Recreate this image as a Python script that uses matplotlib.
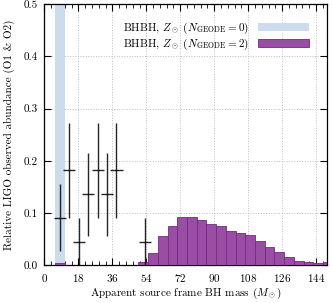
import numpy as np
import matplotlib
matplotlib.use("Agg")
from matplotlib import pyplot as plt
from matplotlib.ticker import MultipleLocator, FormatStrFormatter

plt.rcParams['font.family'] = 'serif'
plt.rcParams['font.serif'] = ['cmr10', 'DejaVu Serif']
plt.rcParams['mathtext.fontset'] = 'cm'
plt.rcParams['axes.formatter.use_mathtext'] = True
plt.rcParams['font.size'] = 8

# N_GEODE = 0 model: a single bin, goes off the top of the plot
geode0_edges = [5.5, 10.8]
geode0_heights = [0.95]

# N_GEODE = 2 model histogram
geode2_edges = [5.5, 10.8, 49.85, 55.0, 60.15, 65.3, 70.45, 75.6, 80.75, 85.9, 91.05,
                96.2, 101.35, 106.5, 111.65, 116.8, 121.95, 127.1, 132.25,
                137.4, 142.55, 147.7, 152.85]
geode2_heights = [0.004, 0.0, 0.007, 0.024, 0.056, 0.075, 0.092, 0.093, 0.086, 0.080,
                  0.076, 0.065, 0.062, 0.058, 0.046, 0.035, 0.025, 0.0155,
                  0.009, 0.006, 0.005, 0.007]

# LIGO O1 & O2 observed BH masses
ligo_mass = [8.2, 13.0, 18.3, 23.2, 28.2, 33.2, 38.1, 53.3]
ligo_width = [3.1, 3.1, 3.2, 3.3, 3.1, 3.2, 3.3, 3.0]
ligo_frac = [0.091, 0.182, 0.045, 0.136, 0.182, 0.136, 0.182, 0.045]
ligo_err = [0.064, 0.091, 0.045, 0.079, 0.091, 0.079, 0.091, 0.045]

blue = '#cddcec'
purple = '#984ea3'

fig = plt.figure(figsize=(3.32, 3.03), dpi=100)
ax = fig.add_axes([0.134, 0.124, 0.852, 0.863])

e0 = np.array(geode0_edges)
ax.hist((e0[:-1] + e0[1:]) / 2, bins=e0, weights=geode0_heights,
        color=blue, label=r'BHBH, $Z_\odot$ ($N_{\rm GEODE} = 0$)', zorder=2)

e2 = np.array(geode2_edges)
ax.hist((e2[:-1] + e2[1:]) / 2, bins=e2, weights=geode2_heights,
        facecolor=purple, edgecolor='#7a2585', linewidth=0.6,
        label=r'BHBH, $Z_\odot$ ($N_{\rm GEODE} = 2$)', zorder=3)

ax.errorbar(ligo_mass, ligo_frac, xerr=ligo_width, yerr=ligo_err, fmt='none',
            ecolor='black', elinewidth=1.0, capsize=0, alpha=0.85, zorder=4)

ax.set_xlim(0, 150)
ax.set_ylim(0, 0.5)
ax.xaxis.set_major_locator(MultipleLocator(18))
ax.xaxis.set_minor_locator(MultipleLocator(3.6))
ax.yaxis.set_major_locator(MultipleLocator(0.1))
ax.yaxis.set_major_formatter(FormatStrFormatter('%.1f'))
ax.tick_params(which='both', direction='in', top=True, right=True)
ax.tick_params(which='major', length=5, width=0.8, pad=5)
ax.tick_params(which='minor', length=3, width=0.6)
ax.grid(True, which='major', linestyle=':', color='#bdbdbd', linewidth=0.7)
ax.set_axisbelow(True)
for s in ax.spines.values():
    s.set_linewidth(0.9)

ax.set_xlabel(r'Apparent source frame BH mass ($M_\odot$)', labelpad=1)
ax.set_ylabel('Relative LIGO observed abundance (O1 & O2)', labelpad=6)

ax.legend(loc='upper right', bbox_to_anchor=(0.97, 0.975), frameon=False,
          markerfirst=False, handlelength=4.6, handleheight=0.7,
          labelspacing=0.1, fontsize=8)

plt.savefig('out.png', dpi=100)
